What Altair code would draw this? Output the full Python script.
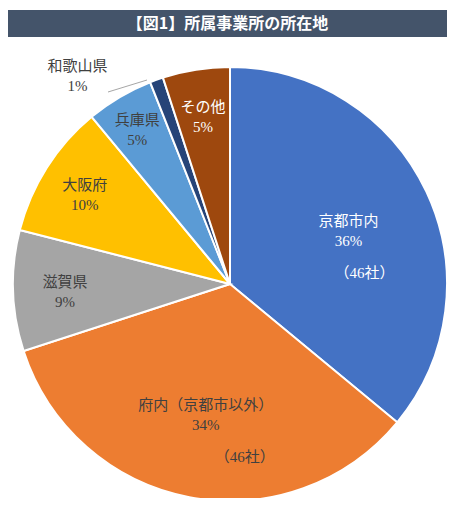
import altair as alt
import pandas as pd

TITLE = "【図1】所属事業所の所在地"
categories = ["京都市内", "府内（京都市以外）", "滋賀県", "大阪府", "兵庫県", "和歌山県", "その他"]
percents = [36, 34, 9, 10, 5, 1, 5]
percent_labels = ["36%", "34%", "9%", "10%", "5%", "1%", "5%"]
company_counts = ["（46社）", "（46社）", "", "", "", "", ""]

# styling / layout constants
COLORS = ["#4472C4", "#ED7D31", "#A5A5A5", "#FFC000", "#5B9BD5", "#264478", "#9E480E"]
LABEL_R = {"京都市内": 131, "府内（京都市以外）": 130, "滋賀県": 165, "大阪府": 172,
           "兵庫県": 182, "和歌山県": 220, "その他": 172}
CX, CY, R = 222, 276, 217
W, H = 439, 490
FONT = "Liberation Serif, Noto Sans CJK JP"
DARK = "#404040"
ML_DY = -7  # lift two-line labels so the block is centred on its anchor

df = pd.DataFrame({
    "cat": categories,
    "value": percents,
    "pct": percent_labels,
    "cnt": company_counts,
    "order": list(range(len(categories))),
})
df["lr"] = df["cat"].map(LABEL_R)

theta = alt.Theta("value:Q", stack=True, scale=alt.Scale(domain=[0, 100]))
order = alt.Order("order:Q", sort="ascending")
base = alt.Chart(df)

banner = alt.Chart(pd.DataFrame({"t": [TITLE]})).mark_rect(color="#44546A").encode(
    x=alt.value(0), x2=alt.value(W), y=alt.value(2), y2=alt.value(29)
)
title = alt.Chart(pd.DataFrame({"t": [TITLE]})).mark_text(
    font="Noto Sans CJK JP", fontSize=16, fontWeight="bold", color="white",
    align="center", baseline="middle"
).encode(text="t:N", x=alt.value(W / 2), y=alt.value(15.5))

arcs = base.mark_arc(radius=R, stroke="white", strokeWidth=2).encode(
    theta=theta, order=order,
    color=alt.Color("cat:N", scale=alt.Scale(domain=categories, range=COLORS), legend=None),
    x=alt.value(CX), y=alt.value(CY),
)


def label_layer(expr, color, dx=0, dy=0):
    return base.transform_window(
        cum="sum(value)", sort=[alt.SortField("order", order="ascending")], frame=[None, 0]
    ).transform_calculate(
        mid="datum.cum - datum.value / 2", t=expr
    ).mark_text(
        font=FONT, fontSize=15, lineHeight=20, lineBreak="\n",
        align="center", baseline="middle", color=color, dx=dx, dy=dy
    ).encode(
        theta=alt.Theta("mid:Q", stack=None, scale=alt.Scale(domain=[0, 100])),
        radius=alt.Radius("lr:Q", scale=None),
        text="t:N", x=alt.value(CX), y=alt.value(CY),
    )


white_cats = "(datum.cat == '京都市内' || datum.cat == 'その他')"
inner_white = label_layer(f"{white_cats} ? datum.cat + '\\n' + datum.pct : ''", "white", dy=ML_DY)
inner_dark = label_layer(
    f"(!{white_cats} && datum.cat != '和歌山県') ? datum.cat + '\\n' + datum.pct : ''", DARK,
    dy=ML_DY)
outer = label_layer("datum.cat == '和歌山県' ? datum.cat + '\\n' + datum.pct : ''", DARK,
                    dx=-78, dy=-4 + ML_DY)
cnt1 = label_layer("datum.cat == '京都市内' ? datum.cnt : ''", "white", dx=16, dy=45)
cnt2 = label_layer("datum.cat == '府内（京都市以外）' ? datum.cnt : ''", DARK, dx=39, dy=45)

leader = alt.Chart(pd.DataFrame({"t": [0]})).mark_rule(color="#A6A6A6", strokeWidth=1).encode(
    x=alt.value(CX - 122), y=alt.value(CY - 192),
    x2=alt.value(CX - 83), y2=alt.value(CY - 204),
)

chart = alt.layer(banner, title, arcs, inner_white, inner_dark, outer, cnt1, cnt2, leader).properties(
    width=W, height=H, padding=0, autosize="none"
).configure_view(stroke=None)

chart.save("out.html", embed_options={"renderer": "svg", "actions": False})
